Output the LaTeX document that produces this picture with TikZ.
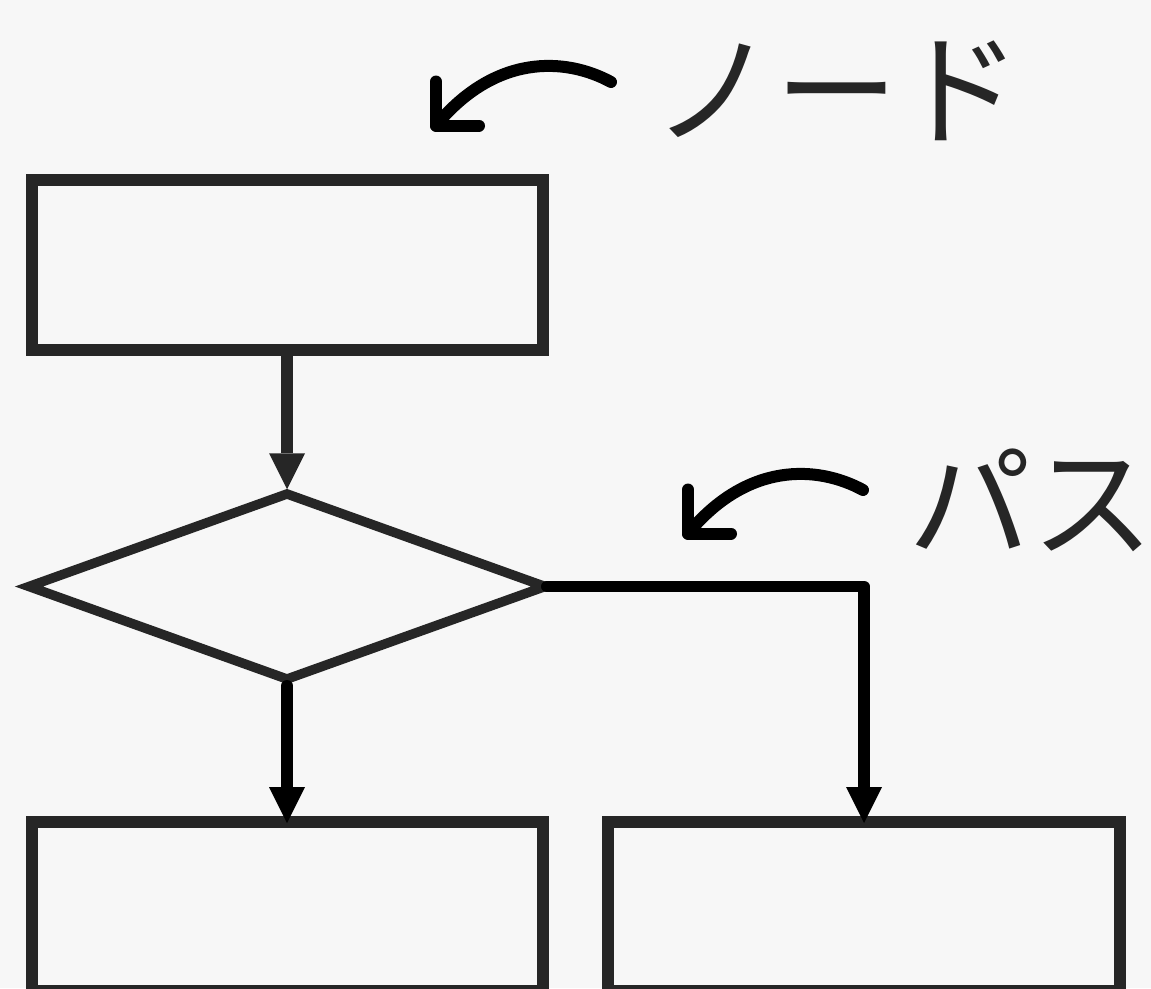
\documentclass[tikz,border=0pt]{standalone}
\usepackage{fontspec}
\newfontfamily\jpfont{Noto Sans CJK JP}
\usetikzlibrary{arrows.meta,shapes.geometric}
\definecolor{bg}{HTML}{F7F7F7}
\definecolor{ink}{HTML}{262626}
\tikzset{
  box/.style={draw=ink, line width=12pt, rectangle, inner sep=0pt, minimum width=511pt},
  decision/.style={draw=ink, line width=9.5pt, diamond, inner sep=0pt, minimum width=520pt, minimum height=189pt, line join=miter, miter limit=10},
  flow/.style={line width=11.5pt, line join=round, shorten >=-7pt, -{Triangle[width=36pt,length=36pt,line width=0pt]}},
  curvearrow/.style={line width=12pt, line cap=round, line join=round, black},
  label/.style={font=\jpfont\fontsize{123}{123}\selectfont, text=ink, inner sep=0pt, anchor=base west}
}
\begin{document}
\begin{tikzpicture}[x=1pt,y=-1pt]
\fill[bg] (0,0) rectangle (1151,988);
\useasboundingbox (0,0) rectangle (1151,988);

\node[box, minimum height=170pt] (top) at (287,264.5) {};
\node[decision] (dec) at (287,586.5) {};
\node[box, minimum height=169pt] (bl) at (287,906.5) {};
\node[box, minimum height=169pt, minimum width=512pt] (br) at (864,906.5) {};

\draw[flow, ink] (top.south) -- ([yshift=5pt]dec.north);
\draw[flow, black, line cap=round] (dec.south) -- (bl.north);
\draw[flow, black, line cap=round] ([xshift=-5pt]dec.east) -| (br.north);

% annotation arrows
\coordinate (n1s) at (611,82);
\coordinate (n1e) at (436,125.5);
\draw[curvearrow] (n1s) .. controls (565,57) and (495,54) .. (n1e);
\draw[curvearrow] (n1e) ++(0,-44) -- (n1e) -- ++(43,0);

\coordinate (n2s) at (863,490);
\coordinate (n2e) at (688,533.5);
\draw[curvearrow] (n2s) .. controls (817,465) and (747,462) .. (n2e);
\draw[curvearrow] (n2e) ++(0,-44) -- (n2e) -- ++(43,0);

\node[label] (nodelbl) at (652,135) {ノード};
\node[label] (pathlbl) at (908,548) {パス};
\end{tikzpicture}
\end{document}
